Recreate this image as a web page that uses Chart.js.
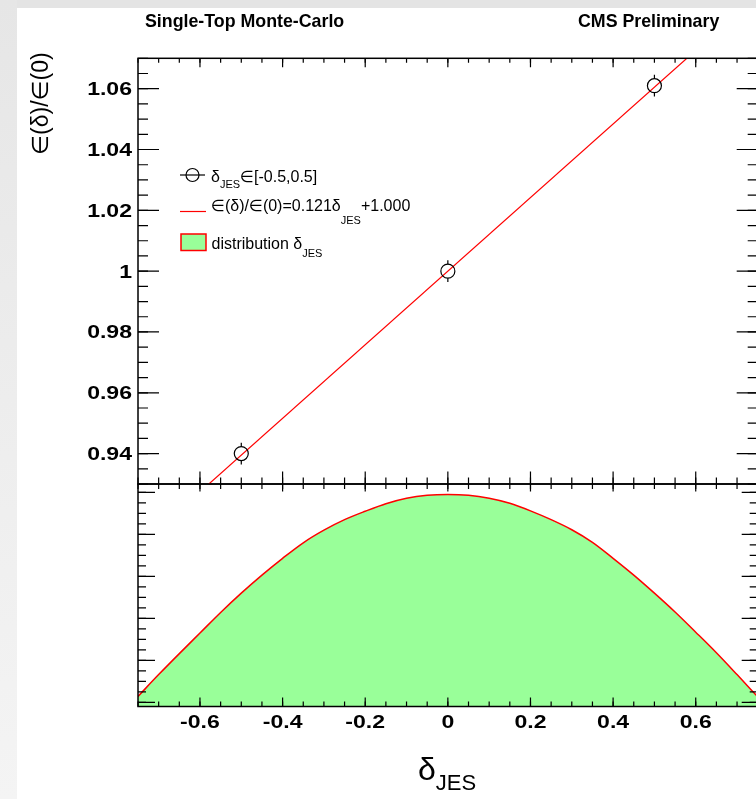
<!DOCTYPE html>
<html>
<head>
<meta charset="utf-8">
<title>JES efficiency ratio</title>
<script src="https://cdn.jsdelivr.net/npm/chart.js@4.4.1/dist/chart.umd.min.js"></script>
<style>
  html, body { margin: 0; padding: 0; overflow: hidden; }
  body { width: 756px; height: 799px; position: relative; background: #fff; }
  .strip-top { position: absolute; left: 0; top: 0; width: 756px; height: 8px; background: #e4e4e4; }
  .strip-left { position: absolute; left: 0; top: 0; width: 17px; height: 799px; background: linear-gradient(#e6e6e6, #f4f4f4); }
  canvas { position: absolute; left: 0; top: 0; }
</style>
</head>
<body>
<div class="strip-top"></div>
<div class="strip-left"></div>
<canvas id="lowerPad" width="770" height="799"></canvas>
<canvas id="upperPad" width="770" height="799"></canvas>
<script>
  // efficiency ratio at the shifted JES points
  const jesShift = [-0.5, 0, 0.5];
  const effRatio = [0.940, 1.000, 1.061];
  const effError = [0.0036, 0.0036, 0.0036];

  // straight-line fit quoted in the legend
  const fitSlope = 0.121;
  const fitOffset = 1.000;
  const fitRange = [-0.75, 0.75];

  // delta_JES distribution shown in the lower pad
  const distX = [-0.75, -0.70, -0.65, -0.60, -0.55, -0.50, -0.45, -0.40, -0.35, -0.30, -0.25,
                 -0.20, -0.15, -0.10, -0.05, 0.00, 0.05, 0.10, 0.15, 0.20, 0.25,
                 0.30, 0.35, 0.40, 0.45, 0.50, 0.55, 0.60, 0.65, 0.70, 0.75];
  const distY = [1.14, 1.66, 2.16, 2.65, 3.14, 3.60, 4.03, 4.43, 4.80, 5.10, 5.35,
                 5.55, 5.73, 5.86, 5.93, 5.95, 5.93, 5.86, 5.74, 5.56, 5.35,
                 5.11, 4.81, 4.43, 4.03, 3.60, 3.15, 2.67, 2.18, 1.66, 1.13];

  // axis labels
  const yTickLabels = ['0.94', '0.96', '0.98', '1', '1.02', '1.04', '1.06'];
  const xTickLabels = ['-0.6', '-0.4', '-0.2', '0', '0.2', '0.4', '0.6'];

  const textFamily = '"Liberation Sans", "DejaVu Sans", sans-serif';
  const labelStretch = 1.28;

  function steps(from, to, step) {
    const out = [];
    const n = Math.round((to - from) / step);
    for (let i = 0; i <= n; i++) out.push(+(from + i * step).toFixed(4));
    return out;
  }

  // wide bold axis numbers
  function wideLabel(ctx, txt, x, y, align) {
    ctx.save();
    ctx.font = 'bold 18px ' + textFamily;
    const w = ctx.measureText(txt).width * labelStretch;
    let left = x;
    if (align === 'right') left = x - w;
    if (align === 'center') left = x - w / 2;
    ctx.translate(left, y);
    ctx.scale(labelStretch, 1);
    ctx.textAlign = 'left';
    ctx.textBaseline = 'alphabetic';
    ctx.fillText(txt, 0, 0);
    ctx.restore();
  }

  // ROOT style ticks pointing into the frame
  function innerTicks(ctx, scale, values, len, side, area) {
    ctx.beginPath();
    values.forEach(v => {
      const p = scale.getPixelForValue(v);
      if (side === 'left') { ctx.moveTo(area.left, p); ctx.lineTo(area.left + len, p); }
      if (side === 'right') { ctx.moveTo(area.right, p); ctx.lineTo(area.right - len, p); }
      if (side === 'top') { ctx.moveTo(p, area.top); ctx.lineTo(p, area.top + len); }
      if (side === 'bottom') { ctx.moveTo(p, area.bottom); ctx.lineTo(p, area.bottom - len); }
    });
    ctx.stroke();
  }

  function drawFrame(chart, t) {
    const ctx = chart.ctx;
    const a = chart.chartArea;
    const xs = chart.scales.x, ys = chart.scales.y;
    ctx.save();
    ctx.strokeStyle = '#000';
    ctx.lineWidth = 1.2;
    const xMaj = steps(-0.6, 0.6, 0.2), xMin = steps(-0.75, 0.75, 0.05);
    innerTicks(ctx, ys, t.yMaj, t.left[0], 'left', a);
    innerTicks(ctx, ys, t.yMin, t.left[1], 'left', a);
    innerTicks(ctx, ys, t.yMaj, t.right[0], 'right', a);
    innerTicks(ctx, ys, t.yMin, t.right[1], 'right', a);
    innerTicks(ctx, xs, xMaj, t.top[0], 'top', a);
    innerTicks(ctx, xs, xMin, t.top[1], 'top', a);
    innerTicks(ctx, xs, xMaj, t.bottom[0], 'bottom', a);
    innerTicks(ctx, xs, xMin, t.bottom[1], 'bottom', a);
    ctx.lineWidth = 1.5;
    ctx.strokeRect(a.left, a.top, a.right - a.left, a.bottom - a.top);
    ctx.restore();
  }

  // text run with optional subscripts: [[text, size, dy], ...]
  function drawRun(ctx, x, y, parts) {
    parts.forEach(([txt, size, dy]) => {
      ctx.font = size + 'px ' + textFamily;
      ctx.fillText(txt, x, y + dy);
      x += ctx.measureText(txt).width;
    });
  }

  const upperDecor = {
    id: 'upperDecor',
    afterDatasetsDraw(chart) {
      const ctx = chart.ctx;
      const xs = chart.scales.x, ys = chart.scales.y;
      // error bars outside the open markers
      ctx.save();
      ctx.strokeStyle = '#000';
      ctx.lineWidth = 1.2;
      const r = 7;
      jesShift.forEach((v, i) => {
        const px = xs.getPixelForValue(v);
        const cy = ys.getPixelForValue(effRatio[i]);
        const hi = ys.getPixelForValue(effRatio[i] + effError[i]);
        const lo = ys.getPixelForValue(effRatio[i] - effError[i]);
        ctx.beginPath();
        ctx.moveTo(px, hi); ctx.lineTo(px, cy - r);
        ctx.moveTo(px, cy + r); ctx.lineTo(px, lo);
        ctx.stroke();
      });
      ctx.restore();
    },
    afterDraw(chart) {
      drawFrame(chart, {
        yMaj: yTickLabels.map(Number), yMin: steps(0.93, 1.07, 0.005),
        left: [21, 10], right: [21, 10], top: [9, 4.5], bottom: [12.5, 6.5]
      });
      const ctx = chart.ctx;
      const ys = chart.scales.y;
      ctx.save();
      ctx.fillStyle = '#000';
      ctx.textBaseline = 'alphabetic';

      // y tick labels
      yTickLabels.forEach(t => wideLabel(ctx, t, 132, ys.getPixelForValue(Number(t)) + 6.5, 'right'));

      // header
      ctx.font = 'bold 17.8px ' + textFamily;
      ctx.fillText('Single-Top Monte-Carlo', 145, 27);
      ctx.fillText('CMS Preliminary', 578, 27);

      // y axis title
      ctx.save();
      ctx.translate(48, 155);
      ctx.rotate(-Math.PI / 2);
      ctx.font = '23px ' + textFamily;
      ctx.fillText('\u2208(\u03b4)/\u2208(0)', 0, 0);
      ctx.restore();

      // x axis title
      drawRun(ctx, 418, 780, [['\u03b4', 32, 0], ['JES', 22, 10]]);

      // legend
      ctx.strokeStyle = '#000';
      ctx.lineWidth = 1.2;
      ctx.beginPath();
      ctx.moveTo(180, 175); ctx.lineTo(205, 175);
      ctx.stroke();
      ctx.beginPath();
      ctx.arc(192.5, 175, 6.5, 0, Math.PI * 2);
      ctx.stroke();
      drawRun(ctx, 211, 182, [['\u03b4', 16, 0], ['JES', 11, 6], ['\u2208[-0.5,0.5]', 16, 0]]);

      ctx.strokeStyle = '#ff0000';
      ctx.beginPath();
      ctx.moveTo(180, 211.5); ctx.lineTo(206, 211.5);
      ctx.stroke();
      drawRun(ctx, 211, 211, [['\u2208(\u03b4)/\u2208(0)=0.121\u03b4', 16, 0], ['JES', 11, 13], ['+1.000', 16, 0]]);

      ctx.fillStyle = '#99ff99';
      ctx.fillRect(181, 234, 25, 16.5);
      ctx.strokeStyle = '#ff0000';
      ctx.lineWidth = 1.5;
      ctx.strokeRect(181, 234, 25, 16.5);
      ctx.fillStyle = '#000';
      drawRun(ctx, 211.5, 249.3, [['distribution \u03b4', 16, 0], ['JES', 11, 7.5]]);
      ctx.restore();
    }
  };

  const lowerDecor = {
    id: 'lowerDecor',
    afterDraw(chart) {
      drawFrame(chart, {
        yMaj: steps(1, 6, 1), yMin: steps(1, 6, 0.25),
        left: [17, 8], right: [16, 8], top: [7.5, 5], bottom: [9, 5]
      });
      const ctx = chart.ctx;
      const xs = chart.scales.x;
      ctx.save();
      ctx.fillStyle = '#000';
      xTickLabels.forEach(t => wideLabel(ctx, t, xs.getPixelForValue(Number(t)), 727.5, 'center'));
      ctx.restore();
    }
  };

  new Chart(document.getElementById('lowerPad'), {
    type: 'line',
    data: {
      datasets: [{
        label: 'distribution',
        data: distX.map((x, i) => ({ x: x, y: distY[i] })),
        borderColor: '#ff0000',
        borderWidth: 1.5,
        backgroundColor: '#99ff99',
        fill: 'start',
        pointRadius: 0,
        cubicInterpolationMode: 'monotone'
      }]
    },
    options: {
      responsive: false,
      animation: false,
      events: [],
      layout: { padding: { top: 484, left: 0, right: 12.3, bottom: 52.5 } },
      plugins: { legend: { display: false }, tooltip: { enabled: false } },
      scales: {
        x: {
          type: 'linear', min: -0.75, max: 0.75,
          afterFit: s => { s.height = 40; },
          grid: { display: false, drawTicks: false },
          border: { display: false },
          ticks: { display: false }
        },
        y: {
          type: 'linear', min: 0.9, max: 6.2,
          afterFit: s => { s.width = 138; },
          grid: { display: false, drawTicks: false },
          border: { display: false },
          ticks: { display: false }
        }
      }
    },
    plugins: [lowerDecor]
  });

  new Chart(document.getElementById('upperPad'), {
    type: 'scatter',
    data: {
      datasets: [{
        type: 'line',
        label: 'fit',
        data: fitRange.map(x => ({ x: x, y: fitSlope * x + fitOffset })),
        borderColor: '#ff0000',
        borderWidth: 1.2,
        pointRadius: 0,
        fill: false,
        order: 2
      }, {
        label: 'points',
        data: jesShift.map((x, i) => ({ x: x, y: effRatio[i] })),
        pointRadius: 7,
        pointBorderColor: '#000',
        pointBackgroundColor: 'rgba(0,0,0,0)',
        pointBorderWidth: 1.2,
        order: 1
      }]
    },
    options: {
      responsive: false,
      animation: false,
      events: [],
      layout: { padding: { top: 58.3, left: 0, right: 12.3, bottom: 315 } },
      plugins: { legend: { display: false }, tooltip: { enabled: false } },
      scales: {
        x: { type: 'linear', min: -0.75, max: 0.75, display: false },
        y: {
          type: 'linear', min: 0.93, max: 1.07,
          afterFit: s => { s.width = 138; },
          grid: { display: false, drawTicks: false },
          border: { display: false },
          ticks: { display: false }
        }
      }
    },
    plugins: [upperDecor]
  });
</script>
</body>
</html>
